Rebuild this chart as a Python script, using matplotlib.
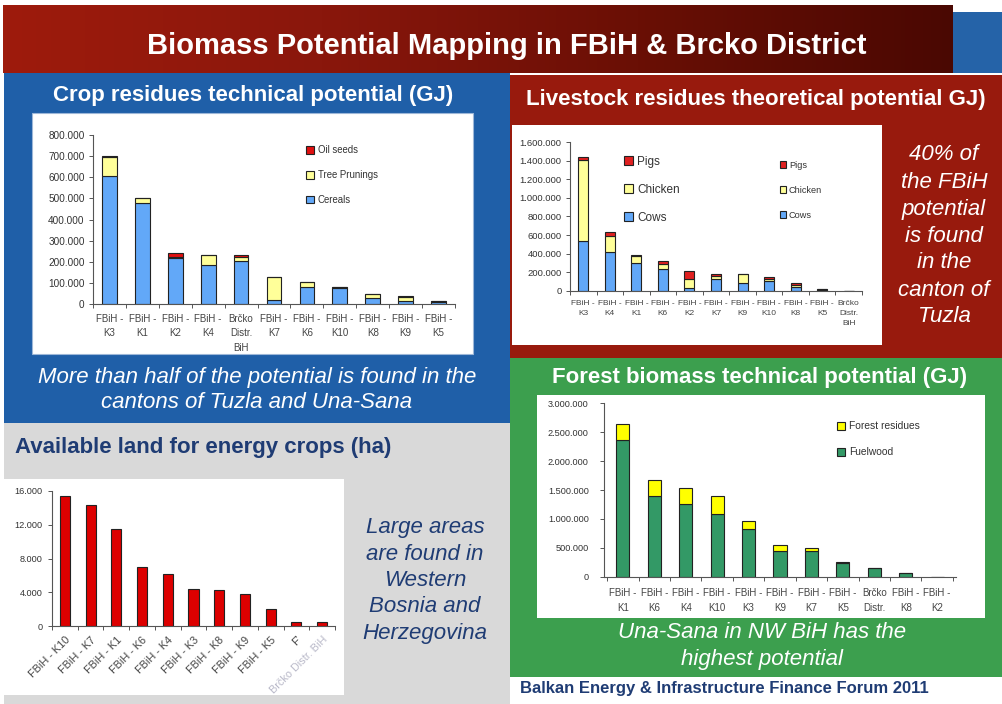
import numpy as np
import matplotlib
matplotlib.use("Agg")
import matplotlib.pyplot as plt
from matplotlib.patches import Rectangle
from matplotlib.ticker import FuncFormatter, FixedLocator
from matplotlib.colors import LinearSegmentedColormap
from matplotlib import font_manager

# ---------------- data ----------------
crop_categories = ["FBiH -\nK3", "FBiH -\nK1", "FBiH -\nK2", "FBiH -\nK4", "Brčko\nDistr.\nBiH",
                   "FBiH -\nK7", "FBiH -\nK6", "FBiH -\nK10", "FBiH -\nK8", "FBiH -\nK9", "FBiH -\nK5"]
crop_cereals = [605000, 478000, 219000, 185000, 204000, 19000, 82000, 74000, 27000, 16000, 8000]
crop_prunings = [90000, 22000, 3000, 47000, 20000, 107000, 21000, 5000, 20000, 19000, 4000]
crop_oilseeds = [5000, 2000, 20000, 2000, 8000, 1000, 1000, 1000, 1000, 1000, 2000]
crop_yticks = [0, 100000, 200000, 300000, 400000, 500000, 600000, 700000, 800000]

live_categories = ["FBiH -\nK3", "FBiH -\nK4", "FBiH -\nK1", "FBiH -\nK6", "FBiH -\nK2", "FBiH -\nK7",
                   "FBiH -\nK9", "FBiH -\nK10", "FBiH -\nK8", "FBiH -\nK5", "Brčko\nDistr.\nBiH"]
live_cows = [536000, 414000, 302000, 237000, 32000, 129000, 83000, 108000, 36000, 10000, 0]
live_chicken = [877000, 176000, 68000, 51000, 94000, 33000, 97000, 20000, 29000, 6000, 0]
live_pigs = [25000, 46000, 18000, 32000, 86000, 18000, 3000, 16000, 21000, 5000, 0]
live_yticks = [0, 200000, 400000, 600000, 800000, 1000000, 1200000, 1400000, 1600000]

forest_categories = ["FBiH -\nK1", "FBiH -\nK6", "FBiH -\nK4", "FBiH -\nK10", "FBiH -\nK3", "FBiH -\nK9",
                     "FBiH -\nK7", "FBiH -\nK5", "Brčko\nDistr.", "FBiH -\nK8", "FBiH -\nK2"]
forest_fuelwood = [2370000, 1400000, 1250000, 1080000, 830000, 440000, 440000, 230000, 150000, 60000, 0]
forest_residues = [280000, 280000, 290000, 320000, 135000, 105000, 65000, 22000, 8000, 3000, 0]
forest_yticks = [0, 500000, 1000000, 1500000, 2000000, 2500000, 3000000]

land_categories = ["FBiH - K10", "FBiH - K7", "FBiH - K1", "FBiH - K6", "FBiH - K4", "FBiH - K3",
                   "FBiH - K8", "FBiH - K9", "FBiH - K5", "F'", "Brčko Distr. BiH"]
land_ha = [15400, 14300, 11500, 7000, 6200, 4400, 4300, 3800, 2100, 500, 500]
land_yticks = [0, 4000, 8000, 12000, 16000]

# ---------------- style ----------------
names = {f.name for f in font_manager.fontManager.ttflist}
NARROW = "Liberation Sans Narrow" if "Liberation Sans Narrow" in names else "Liberation Sans"
plt.rcParams["font.family"] = ["Liberation Sans", "DejaVu Sans"]

W, H = 1002, 704
fig = plt.figure(figsize=(W / 100, H / 100), dpi=100)

BLUE = "#1F5FA8"
RED = "#981A0D"
GREEN = "#3C9F4E"
GRAY = "#D9D9D9"
NAVY = "#1F3C74"

bg = fig.add_axes([0, 0, 1, 1])
bg.axis("off")


def rect(x0, y0, x1, y1, color, z=1, ec="none", lw=0):
    bg.add_patch(Rectangle((x0, y0), x1 - x0, y1 - y0, facecolor=color, edgecolor=ec, lw=lw, zorder=z))


# header gradient
grad = np.linspace(0, 1, 256)[None, :]
cm = LinearSegmentedColormap.from_list("hdr", ["#9E1B0C", "#8A170C", "#6A0F05", "#4A0802"])
rect(953, 12, W, 73, "#2563A8", z=1)
bg.imshow(grad, cmap=cm, extent=(3, 953, 73, 5), aspect="auto", zorder=2)
bg.set_xlim(0, W)
bg.set_ylim(H, 0)

# panels
rect(4, 73, 510, 423, BLUE)
rect(510, 75, W, 358, RED)
rect(510, 358, W, 677, GREEN)
rect(4, 423, 510, H, GRAY)
# white boxes
rect(32, 113, 473, 354, "white", z=2, ec="#9DB7D8", lw=0.8)
rect(512, 125, 882, 345, "white", z=2)
rect(537, 395, 985, 618, "white", z=2)
rect(4, 479, 344, 695, "white", z=2)

bg.text(507, 46, "Biomass Potential Mapping in FBiH & Brcko District", color="white",
        fontsize=21, fontweight="bold", family=NARROW, ha="center", va="center", zorder=5)
TT = dict(color="white", fontsize=16, fontweight="bold", va="center", zorder=5)
bg.text(253, 95, "Crop residues technical potential (GJ)", ha="center", **TT)
bg.text(756, 100, "Livestock residues theoretical potential GJ)", ha="center", **TT)
bg.text(760, 378, "Forest biomass technical potential (GJ)", ha="center", **TT)
bg.text(15, 448, "Available land for energy crops (ha)", color=NAVY, fontsize=16,
        fontweight="bold", ha="left", va="center", zorder=5)

it = dict(style="italic", fontsize=16, ha="center", va="center", zorder=5)
bg.text(257, 377, "More than half of the potential is found in the", color="white", **it)
bg.text(257, 402, "cantons of Tuzla and Una-Sana", color="white", **it)
for i, s in enumerate(["40% of", "the FBiH", "potential", "is found", "in the", "canton of", "Tuzla"]):
    bg.text(944, 155 + i * 27, s, color="white", **it)
for i, s in enumerate(["Large areas", "are found in", "Western", "Bosnia and", "Herzegovina"]):
    bg.text(425, 528 + i * 26.3, s, color=NAVY, **it)
bg.text(762, 632, "Una-Sana in NW BiH has the", color="white", **it)
bg.text(762, 660, "highest potential", color="white", **it)
bg.text(520, 689, "Balkan Energy & Infrastructure Finance Forum 2011", color=NAVY, fontsize=12,
        fontweight="bold", ha="left", va="center", zorder=5)


def px_axes(l, t, r, b):
    a = fig.add_axes([l / W, 1 - b / H, (r - l) / W, (b - t) / H])
    a.patch.set_alpha(0)
    return a


def fmt(v, pos=None):
    return f"{int(round(v)):,}".replace(",", ".")


def style_axes(a, n, yticks, fs, ypad, xfs, xpad, lsp):
    for s in ["top", "right"]:
        a.spines[s].set_visible(False)
    for s in ["left", "bottom"]:
        a.spines[s].set_color("#555555")
        a.spines[s].set_linewidth(0.8)
    a.set_xlim(-0.5, n - 0.5)
    a.set_ylim(yticks[0], yticks[-1])
    a.yaxis.set_major_locator(FixedLocator(yticks))
    a.yaxis.set_major_formatter(FuncFormatter(fmt))
    a.tick_params(axis="y", labelsize=fs, length=3, width=0.7, color="#555555",
                  labelcolor="#333333", pad=ypad)
    a.set_xticks(np.arange(n))
    a.set_xticks(np.arange(n + 1) - 0.5, minor=True)
    a.tick_params(axis="x", which="major", length=0, labelsize=xfs, labelcolor="#444444", pad=xpad)
    a.tick_params(axis="x", which="minor", length=3, width=0.7, color="#555555")


def set_lsp(a, lsp):
    for lbl in a.get_xticklabels():
        lbl.set_linespacing(lsp)


EDGE = dict(edgecolor="#222222", linewidth=0.8)

# ---------------- crop residues ----------------
ax1 = px_axes(93, 135, 455, 304)
x = np.arange(len(crop_categories))
b1 = ax1.bar(x, crop_cereals, 0.45, color="#62A8F8", **EDGE)
b2 = ax1.bar(x, crop_prunings, 0.45, bottom=crop_cereals, color="#FFFF99", **EDGE)
bot = np.array(crop_cereals) + np.array(crop_prunings)
b3 = ax1.bar(x, crop_oilseeds, 0.45, bottom=bot, color="#E01010", **EDGE)
style_axes(ax1, len(crop_categories), crop_yticks, 7.2, 3, 7, 7, 1.55)
ax1.set_xticklabels(crop_categories)
set_lsp(ax1, 1.55)
ax1.legend([b3, b2, b1], ["Oil seeds", "Tree Prunings", "Cereals"], loc="upper left",
           bbox_to_anchor=(0.565, 0.99), frameon=False, fontsize=6.9, handlelength=0.8,
           handleheight=0.8, labelspacing=1.55, handletextpad=0.4, labelcolor="#333333")

# ---------------- livestock ----------------
ax2 = px_axes(570, 142.3, 862, 290.7)
x = np.arange(len(live_categories))
c1 = ax2.bar(x, live_cows, 0.38, color="#62A8F8", **EDGE)
c2 = ax2.bar(x, live_chicken, 0.38, bottom=live_cows, color="#FFFF99", **EDGE)
bot = np.array(live_cows) + np.array(live_chicken)
c3 = ax2.bar(x, live_pigs, 0.38, bottom=bot, color="#E02020", **EDGE)
style_axes(ax2, len(live_categories), live_yticks, 6.8, 3, 6, 7, 1.6)
ax2.set_xticklabels(live_categories)
set_lsp(ax2, 1.6)
lg = ax2.legend([c3, c2, c1], ["Pigs", "Chicken", "Cows"], loc="upper left",
                bbox_to_anchor=(0.15, 0.98), frameon=False, fontsize=8.5, handlelength=0.7,
                handleheight=0.8, labelspacing=1.35, handletextpad=0.4, labelcolor="#333333")
ax2.add_artist(lg)
ax2.legend([c3, c2, c1], ["Pigs", "Chicken", "Cows"], loc="upper left",
           bbox_to_anchor=(0.69, 0.93), frameon=False, fontsize=6.6, handlelength=0.7,
           handleheight=0.8, labelspacing=1.75, handletextpad=0.3, labelcolor="#333333")

# ---------------- forest ----------------
ax3 = px_axes(604, 403.3, 956, 576.7)
x = np.arange(len(forest_categories))
f1 = ax3.bar(x, forest_fuelwood, 0.42, color="#339966", **EDGE)
f2 = ax3.bar(x, forest_residues, 0.42, bottom=forest_fuelwood, color="#FFFF00", **EDGE)
style_axes(ax3, len(forest_categories), forest_yticks, 6.6, 8, 7, 8, 1.7)
ax3.set_xlim(-0.6, len(forest_categories) - 0.4)
ax3.set_xticklabels(forest_categories)
set_lsp(ax3, 1.7)
ax3.legend([f2, f1], ["Forest residues", "Fuelwood"], loc="upper left",
           bbox_to_anchor=(0.635, 0.95), frameon=False, fontsize=7.4, handlelength=0.8,
           handleheight=0.8, labelspacing=1.55, handletextpad=0.4, labelcolor="#333333")

# ---------------- available land ----------------
ax4 = px_axes(52, 491, 335, 626.3)
x = np.arange(len(land_categories))
ax4.bar(x, land_ha, 0.39, color="#DD0000", **EDGE)
style_axes(ax4, len(land_categories), land_yticks, 6.6, 4, 7.8, 6, 1.0)
ax4.set_xticklabels(land_categories, rotation=45, ha="right", rotation_mode="anchor")
labels = ax4.get_xticklabels()
labels[-1].set_color("#B8B8C8")

fig.savefig("out.png", dpi=100)
